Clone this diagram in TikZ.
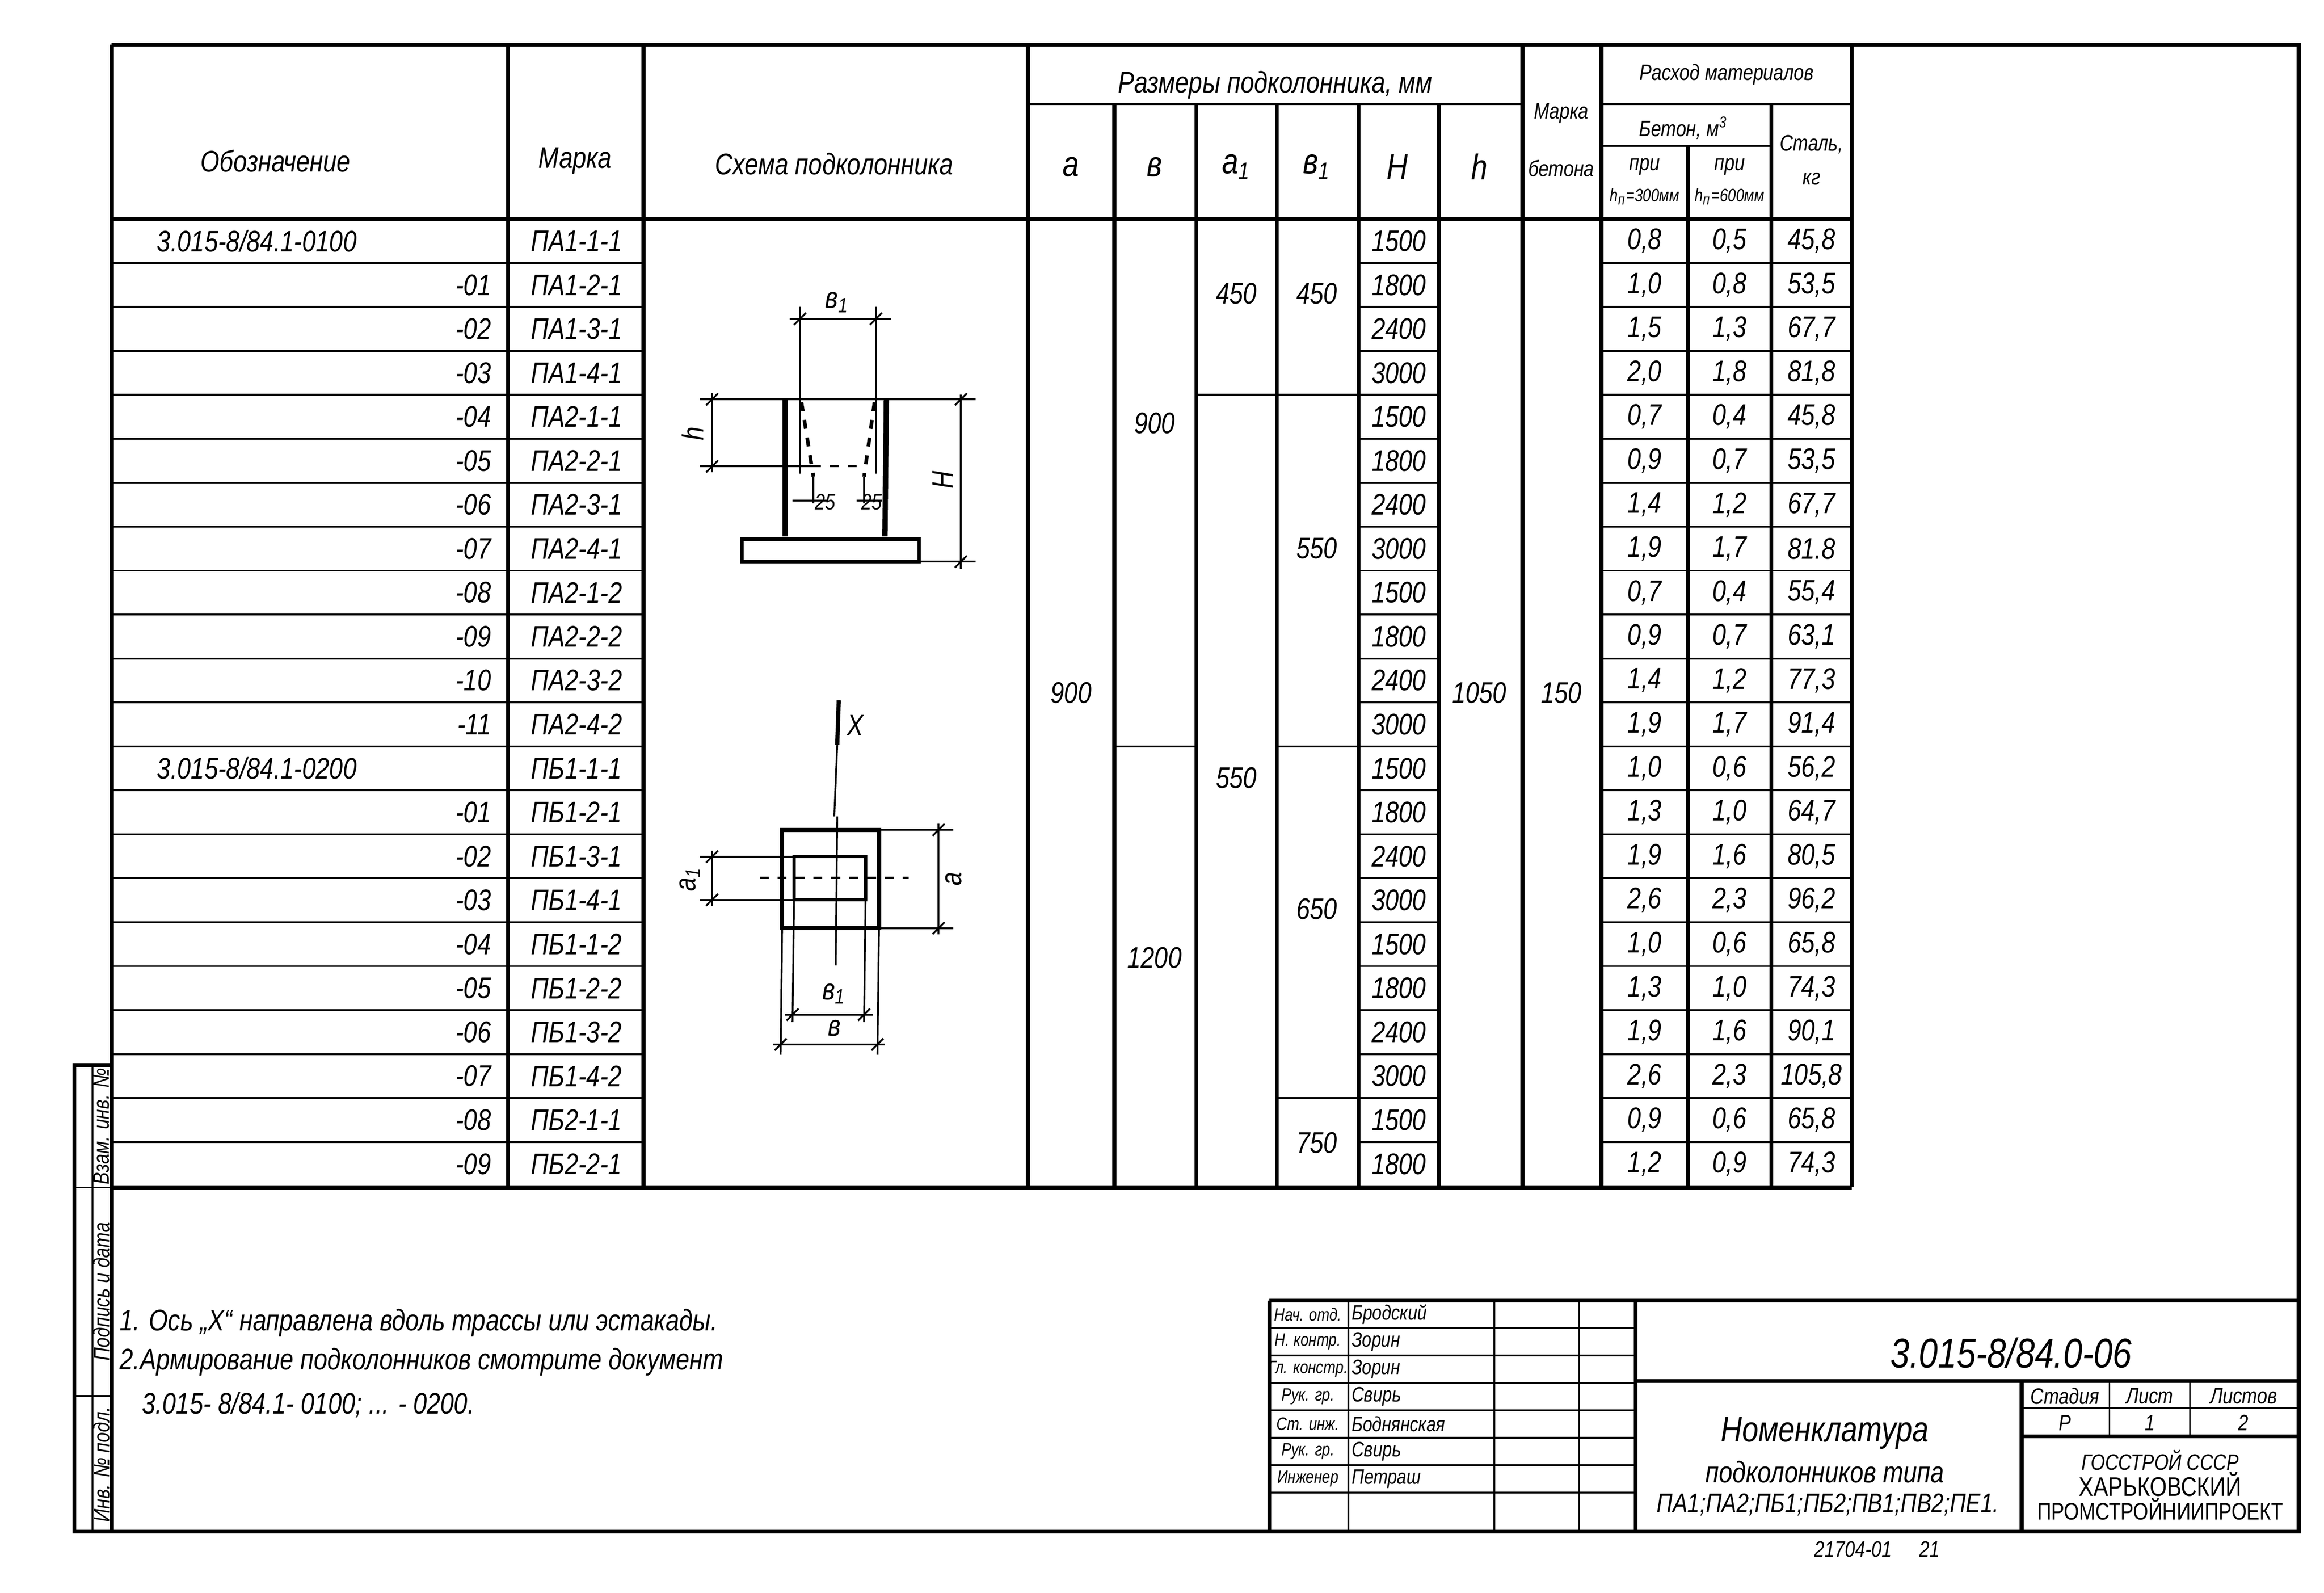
\documentclass[tikz,border=0pt]{standalone}
\usepackage{fontspec}
\setmainfont{Liberation Sans}[FakeStretch=0.82]
\begin{document}
\begin{tikzpicture}[x=0.5pt,y=-0.5pt,
  thin/.style={line width=0.6pt},
  thick2/.style={line width=1.3pt},
  txt/.style={font=\fontsize{10}{11}\selectfont\itshape, inner sep=0pt},
  sm/.style={font=\fontsize{7.5}{8}\selectfont\itshape, inner sep=0pt},
  big/.style={font=\fontsize{12}{13}\selectfont\itshape, inner sep=0pt}]
\useasboundingbox (0,0) rectangle (1560,1069);
% frame
\draw[thick2] (75,30) -- (1543,30) -- (1543,1028) -- (50,1028) -- (50,715) -- (75,715);
\draw[thick2] (75,30) -- (75,1028);
\draw[thin] (50,797) -- (75,797) (50,937) -- (75,937) (62,715) -- (62,1028);
\node[sm,rotate=90] (s1) at (68,756) {Взам. инв. №};
\node[sm,rotate=90] (s2) at (68,867) {Подпись и дата};
\node[sm,rotate=90] (s3) at (68,983) {Инв. № подл.};
% table verticals
\foreach \x in {341,432,690,1022,1075,1243}
  \draw[thick2] (\x,30) -- (\x,797);
\foreach \x in {748,803,857,912,966,1189}
  \draw[thick2] (\x,70) -- (\x,797);
\draw[thick2] (1133,98) -- (1133,797);
\draw[thick2] (75,147) -- (1243,147);
\draw[thick2] (75,797) -- (1243,797);
\draw[thin] (690,70) -- (1022,70) (1075,70) -- (1243,70) (1075,98) -- (1189,98);
% headers
\node[txt] (h1) at (185,108) {Обозначение};
\node[txt] (h2) at (386,108) {Марка};
\node[txt] (h3) at (560,110) {Схема подколонника};
\node[txt] (h4) at (856,57) {Размеры подколонника, мм};
\node[big] (ha) at (719,112) {a};
\node[big] (hb) at (775,112) {в};
\node[big] (ha1) at (830,112) {a\textsubscript{1}};
\node[big] (hb1) at (884,112) {в\textsubscript{1}};
\node[big] (hH) at (938,112) {H};
\node[big] (hh) at (993,112) {h};
\node[sm] (mb1) at (1048,76) {Марка};
\node[sm] (mb2) at (1048,113) {бетона};
\node[sm] (rm) at (1159,50) {Расход материалов};
\node[sm] (bt) at (1130,86) {Бетон, м\textsuperscript{3}};
\node[sm] (st1) at (1216,97) {Сталь,};
\node[sm] (st2) at (1216,120) {кг};
\node[sm] (p1) at (1104,112) {при};
\node[sm,font=\fontsize{6}{7}\selectfont\itshape] (p2) at (1104,132) {h\textsubscript{п}=300мм};
\node[sm] (p3) at (1161,112) {при};
\node[sm,font=\fontsize{6}{7}\selectfont\itshape] (p4) at (1161,132) {h\textsubscript{п}=600мм};
% row lines
\foreach \i in {1,...,21}{
  \pgfmathsetmacro\yy{147+29.5*\i}
  \draw[thin] (75,\yy) -- (432,\yy);
  \draw[thin] (912,\yy) -- (966,\yy);
  \draw[thin] (1075,\yy) -- (1243,\yy);
}
\draw[thin] (748,501) -- (803,501);
\draw[thin] (803,265) -- (912,265);
\draw[thin] (857,501) -- (912,501);
\draw[thin] (857,737) -- (912,737);
% rows data
\foreach \i/\d/\m/\H/\bA/\bB/\s in {
 0/{}/ПА1-1-1/1500/{0,8}/{0,5}/{45,8}, 1/-01/ПА1-2-1/1800/{1,0}/{0,8}/{53,5}, 2/-02/ПА1-3-1/2400/{1,5}/{1,3}/{67,7}, 3/-03/ПА1-4-1/3000/{2,0}/{1,8}/{81,8},
 4/-04/ПА2-1-1/1500/{0,7}/{0,4}/{45,8}, 5/-05/ПА2-2-1/1800/{0,9}/{0,7}/{53,5}, 6/-06/ПА2-3-1/2400/{1,4}/{1,2}/{67,7}, 7/-07/ПА2-4-1/3000/{1,9}/{1,7}/{81.8},
 8/-08/ПА2-1-2/1500/{0,7}/{0,4}/{55,4}, 9/-09/ПА2-2-2/1800/{0,9}/{0,7}/{63,1}, 10/-10/ПА2-3-2/2400/{1,4}/{1,2}/{77,3}, 11/-11/ПА2-4-2/3000/{1,9}/{1,7}/{91,4},
 12/{}/ПБ1-1-1/1500/{1,0}/{0,6}/{56,2}, 13/-01/ПБ1-2-1/1800/{1,3}/{1,0}/{64,7}, 14/-02/ПБ1-3-1/2400/{1,9}/{1,6}/{80,5}, 15/-03/ПБ1-4-1/3000/{2,6}/{2,3}/{96,2},
 16/-04/ПБ1-1-2/1500/{1,0}/{0,6}/{65,8}, 17/-05/ПБ1-2-2/1800/{1,3}/{1,0}/{74,3}, 18/-06/ПБ1-3-2/2400/{1,9}/{1,6}/{90,1}, 19/-07/ПБ1-4-2/3000/{2,6}/{2,3}/{105,8},
 20/-08/ПБ2-1-1/1500/{0,9}/{0,6}/{65,8}, 21/-09/ПБ2-2-1/1800/{1,2}/{0,9}/{74,3}}{
  \pgfmathsetmacro\yy{147+29.5*(\i+0.5)}
  \node[txt,anchor=east] (d\i) at (330,\yy) {\d};
  \node[txt] (m\i) at (387,\yy) {\m};
  \node[txt] (H\i) at (939,\yy) {\H};
  \node[txt] (ba\i) at (1104,\yy) {\bA};
  \node[txt] (bb\i) at (1161,\yy) {\bB};
  \node[txt] (st\i) at (1216,\yy) {\s};
}
\node[txt,anchor=west] (dA) at (105,161.75) {3.015-8/84.1-0100};
\node[txt,anchor=west] (dB) at (105,515.75) {3.015-8/84.1-0200};
% merged values
\node[txt] (va) at (719,465) {900};
\node[txt] (vb1) at (775,284) {900};
\node[txt] (vb2) at (775,643) {1200};
\node[txt] (va11) at (830,197) {450};
\node[txt] (va12) at (830,522) {550};
\node[txt] (vb11) at (884,197) {450};
\node[txt] (vb12) at (884,368) {550};
\node[txt] (vb13) at (884,610) {650};
\node[txt] (vb14) at (884,767) {750};
\node[txt] (vh) at (993,465) {1050};
\node[txt] (vm) at (1048,465) {150};
% elevation scheme
\draw[thin] (530,214) -- (598,214);
\draw[thin] (537,206) -- (537,318) (588,206) -- (588,318);
\draw[thin] (470,268) -- (655,268);
\draw[thin] (470,313) -- (545,313);
\draw[thin,dashed] (545,313) -- (580,313);
\draw[line width=1.8pt] (527,268) -- (527,360) (595,268) -- (594,360);
\draw[line width=1.2pt,dashed] (538,270) -- (546,320) (587,270) -- (580,320);
\draw[thin] (546,320) -- (546,338) (580,320) -- (580,338);
\draw[thin] (532,336) -- (556,336) (575,336) -- (592,336);
\draw[line width=1.2pt] (498,362) rectangle (617,377);
\draw[thin] (617,377) -- (655,377);
\draw[thin] (645,265) -- (645,382);
\draw[thin] (478,264) -- (478,317);
\foreach \p in {(537,214),(588,214),(645,268),(645,377),(478,268),(478,313)}
  \draw[thin] \p ++(-4,4) -- ++(8,-8);
\node[txt] (lb1) at (562,203) {в\textsubscript{1}};
\node[txt,rotate=90] (lh) at (465,291) {h};
\node[txt,rotate=90] (lH) at (633,322) {H};
\node[sm] (l25a) at (554,337) {25};
\node[sm] (l25b) at (585,337) {25};
% plan scheme
\draw[line width=1.4pt] (563,470) -- (562,500);
\draw[thin] (562,500) -- (560,548);
\node[txt] (lx) at (574,487) {X};
\draw[line width=1.4pt] (525,557) rectangle (590,623);
\draw[line width=1.1pt] (533,575) rectangle (581,604);
\draw[thin] (470,575) -- (533,575) (470,604) -- (533,604);
\draw[thin,dashed] (510,589) -- (610,589);
\draw[thin] (562,548) -- (561,648);
\draw[thin] (590,557) -- (640,557) (590,623) -- (640,623);
\draw[thin] (478,571) -- (478,608);
\draw[thin] (630,553) -- (630,627);
\draw[thin] (533,604) -- (532,686) (581,604) -- (580,686);
\draw[thin] (525,623) -- (524,708) (590,623) -- (589,708);
\draw[thin] (527,681) -- (586,681);
\draw[thin] (519,701) -- (594,701);
\foreach \p in {(478,575),(478,604),(630,557),(630,623),(532,681),(580,681),(524,701),(589,701)}
  \draw[thin] \p ++(-4,4) -- ++(8,-8);
\node[txt,rotate=90] (la1) at (463,590) {a\textsubscript{1}};
\node[txt,rotate=90] (la) at (640,590) {a};
\node[txt] (lb1b) at (560,667) {в\textsubscript{1}};
\node[txt] (lbb) at (560,690) {в};
% notes
\node[txt,anchor=west] (n1) at (80,888) {1. Ось „X“ направлена вдоль трассы или эстакады.};
\node[txt,anchor=west] (n2) at (80,914) {2.Армирование подколонников смотрите документ};
\node[txt,anchor=west] (n3) at (95,943) {3.015- 8/84.1- 0100; ... - 0200.};
% title block
\draw[thick2] (852,873) -- (1543,873);
\draw[thick2] (852,873) -- (852,1028);
\foreach \x in {905,1003,1060} \draw[thin] (\x,873) -- (\x,1028);
\draw[thick2] (1098,873) -- (1098,1028);
\foreach \k in {1,...,7}{ \pgfmathsetmacro\yy{873+18.4*\k} \draw[thin] (852,\yy) -- (1098,\yy); }
\draw[thick2] (1098,927) -- (1543,927);
\draw[thick2] (1357,927) -- (1357,1028);
\draw[thin] (1416,927) -- (1416,964) (1470,927) -- (1470,964);
\draw[thin] (1357,945) -- (1543,945);
\draw[thick2] (1357,964) -- (1543,964);
\foreach \k/\r/\n in {0/Нач. отд./Бродский,1/Н. контр./Зорин,2/Гл. констр./Зорин,3/Рук. гр./Свирь,4/Ст. инж./Боднянская,5/Рук. гр./Свирь,6/Инженер/Петраш}{
  \pgfmathsetmacro\yy{873+18.4*(\k+0.5)}
  \node[sm,font=\fontsize{6}{7}\selectfont\itshape] (r\k) at (878,\yy) {\r};
  \node[sm,anchor=west,font=\fontsize{7}{7}\selectfont\itshape] (nm\k) at (907,\yy) {\n};
}
\node[big,font=\fontsize{14}{15}\selectfont\itshape] (code) at (1350,908) {3.015-8/84.0-06};
\node[big] (t1) at (1225,962) {Номенклатура};
\node[txt] (t2) at (1225,988) {подколонников типа};
\node[txt,font=\fontsize{9}{10}\selectfont\itshape] (t3) at (1227,1010) {ПА1;ПА2;ПБ1;ПБ2;ПВ1;ПВ2;ПЕ1.};
\node[sm] (c1) at (1386,937) {Стадия};
\node[sm] (c2) at (1443,937) {Лист};
\node[sm] (c3) at (1506,937) {Листов};
\node[sm] (c4) at (1386,955) {Р};
\node[sm] (c5) at (1443,955) {1};
\node[sm] (c6) at (1506,955) {2};
\node[sm] (g1) at (1450,980) {ГОССТРОЙ СССР};
\node[sm,font=\fontsize{9}{9}\selectfont] (g2) at (1450,996) {ХАРЬКОВСКИЙ};
\node[sm,font=\fontsize{8}{9}\selectfont] (g3) at (1450,1013) {ПРОМСТРОЙНИИПРОЕКТ};
\node[sm] (bot) at (1260,1040) {21704-01 \quad 21};
\end{tikzpicture}
\end{document}
